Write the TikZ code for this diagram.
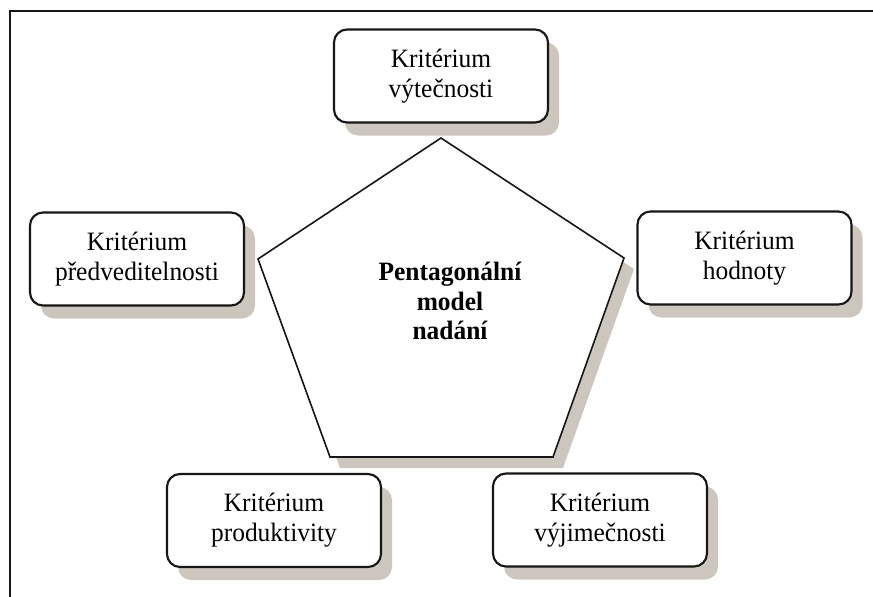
\documentclass[tikz,border=0pt]{standalone}
\usepackage{fontspec}
\setmainfont{Liberation Serif}[FakeStretch=0.96]
\usetikzlibrary{shadows}
\definecolor{shade}{RGB}{204,198,190}
\definecolor{ink}{RGB}{22,22,22}
\tikzset{
  crit/.style={draw=ink, line width=2.1pt, rounded corners=13pt, fill=white,
    minimum width=214pt, minimum height=93pt, inner sep=0pt, align=center,
    font=\fontsize{26.5}{30}\selectfont,
    drop shadow={shadow xshift=11pt, shadow yshift=-13pt, fill=shade, opacity=1}},
  penta/.style={draw=ink, line width=1.6pt, fill=white, line join=miter,
    drop shadow={shadow xshift=10pt, shadow yshift=-11pt, fill=shade, opacity=1}},
  title/.style={align=center, font=\bfseries\fontsize{26.5}{29.5}\selectfont, inner sep=0pt},
  frame/.style={draw=ink, line width=2pt}
}
\begin{document}
\begin{tikzpicture}[x=1pt,y=-1pt]
  \useasboundingbox (0,0) rectangle (873,597);
  \coordinate (f1) at (873,11);
  \coordinate (f2) at (10,11);
  \coordinate (f3) at (10,597);
  \draw[frame] (f1) -- (f2) -- (f3);

  \coordinate (pT) at (441,138);
  \coordinate (pR) at (624,258);
  \coordinate (pBR) at (553,457);
  \coordinate (pBL) at (330,457);
  \coordinate (pL) at (258,259);
  \path[penta] (pT) -- (pR) -- (pBR) -- (pBL) -- (pL) -- cycle;
  \node[title] (model) at (450,301) {Pentagonální\\model\\nadání};

  \node[crit] (vyt) at (441,76) {Kritérium\\výtečnosti};
  \node[crit] (pred) at (137,259) {Kritérium\\předveditelnosti};
  \node[crit] (hod) at (744.5,258) {Kritérium\\hodnoty};
  \node[crit] (prod) at (274,520.5) {Kritérium\\produktivity};
  \node[crit] (vyj) at (600,520) {Kritérium\\výjimečnosti};
\end{tikzpicture}
\end{document}
